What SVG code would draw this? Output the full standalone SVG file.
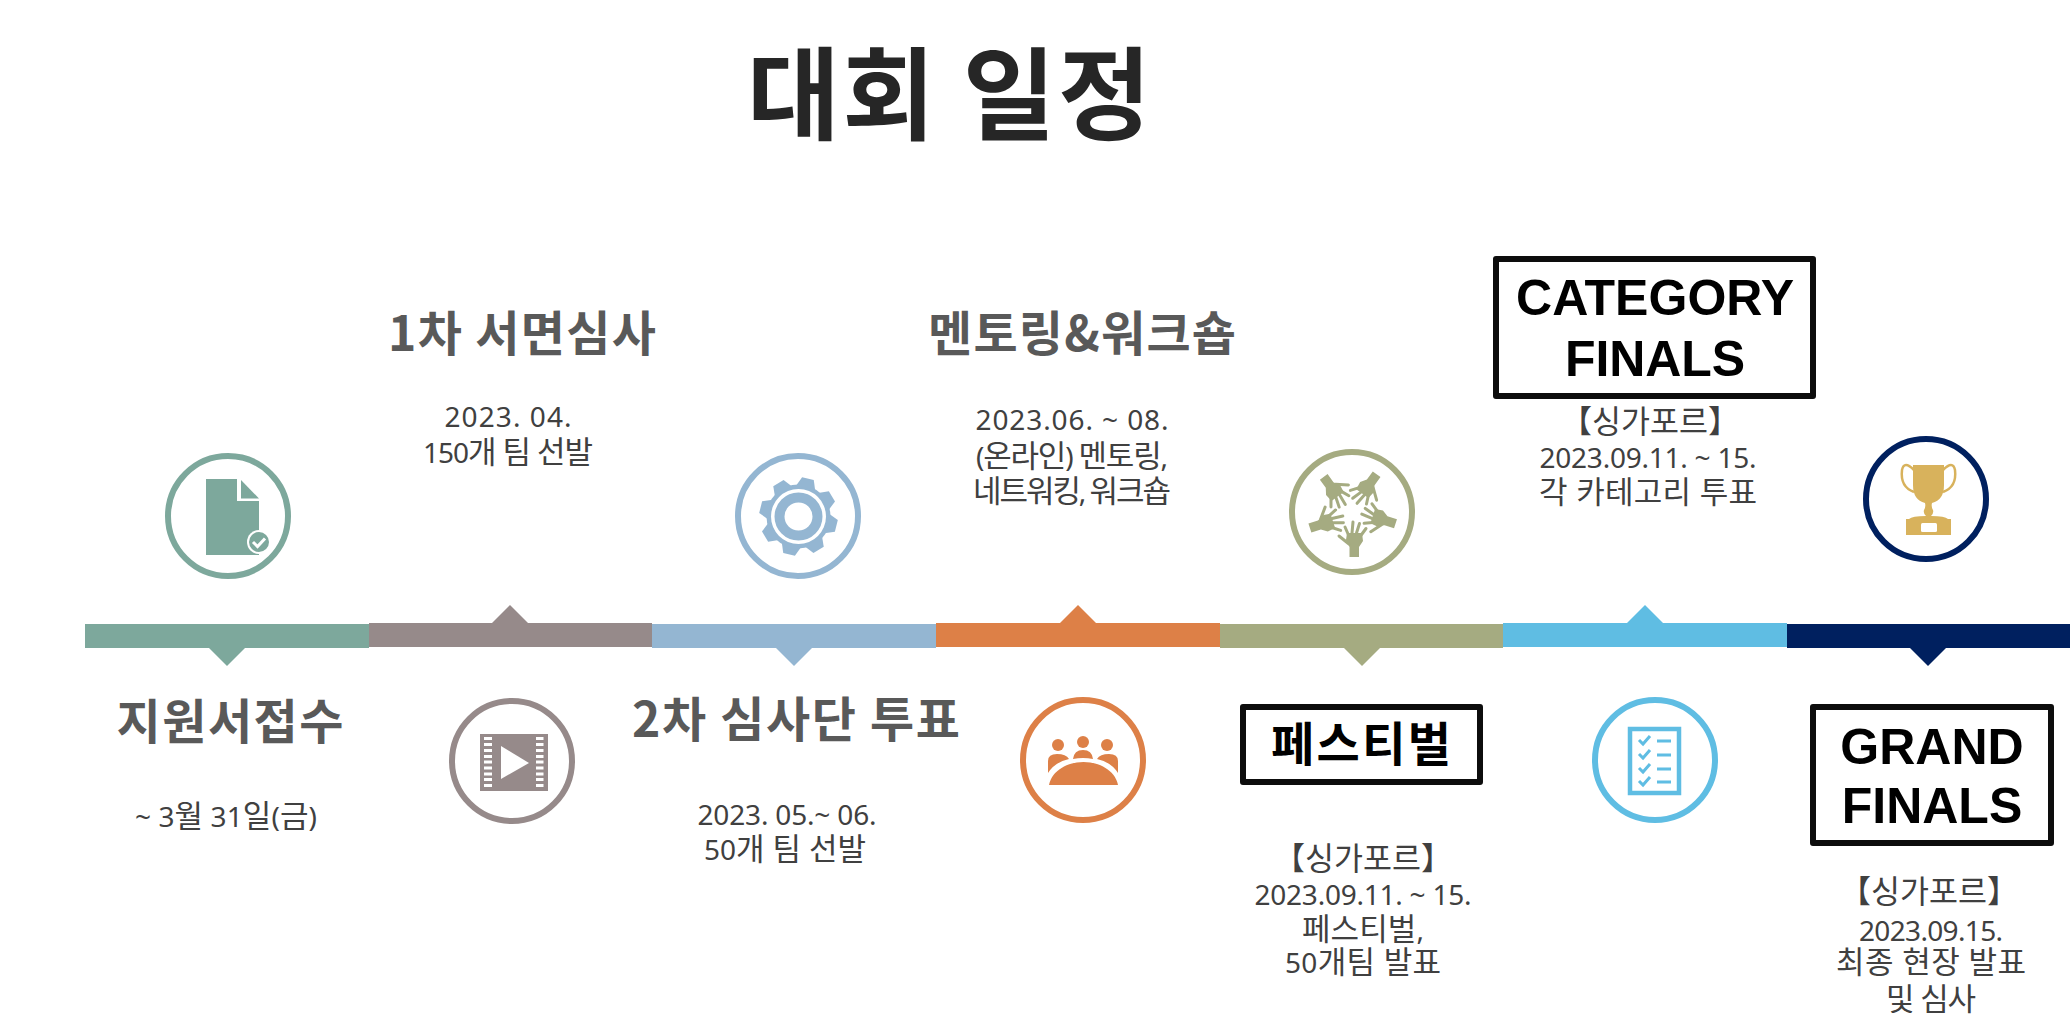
<svg xmlns="http://www.w3.org/2000/svg" xmlns:xlink="http://www.w3.org/1999/xlink" width="2070" height="1034" viewBox="0 0 2070 1034">
<style>
text{font-family:"Noto Sans","Noto Sans CJK KR",sans-serif;text-anchor:middle}
.title{font-family:"Noto Sans CJK KR",sans-serif;font-size:101px;font-weight:700;fill:#262626}
.head{font-family:"Noto Sans CJK KR",sans-serif;font-size:48px;font-weight:700;fill:#595959}
.body{font-size:28px;fill:#404040}
.body tspan{font-size:31px}
.tag{font-family:"Noto Sans CJK KR",sans-serif;font-size:31.500px;fill:#404040}
.box{fill:#fff;stroke:#0d0d0d;stroke-width:6;stroke-linejoin:round}
.en{font-family:"Liberation Sans",Arial,sans-serif;font-size:50px;font-weight:700;fill:#000}
.fest{font-family:"Noto Sans CJK KR",sans-serif;font-size:47px;font-weight:700;fill:#000}
.ring{fill:#fff;stroke-width:6}
</style>
<defs>
<g id="hand" fill="#a5ab81" stroke="none">
<path d="M-2.500 45H7V35L11 29 10 21H-5L-6 28-2.500 35Z"/>
<path d="M-3.500 23L-7 15M0 21L1 10M4.500 21L7.500 11.500M8.500 24L14 16.500M-3 32L-13 24" fill="none" stroke="#a5ab81" stroke-width="3" stroke-linecap="round"/>
</g>
<path id="tooth" d="M-6 -39L6 -39 10 -29H-10Z"/>
</defs>
<rect width="2070" height="1034" fill="#fff"/>
<text class="title" x="949" y="132" textLength="404" id="title">대회 일정</text>
<g id="timeline">
<rect x="85" y="624" width="284" height="24" fill="#7da89c"/><path d="M209 648H245L227 666Z" fill="#7da89c"/>
<rect x="369" y="623" width="283" height="24" fill="#968a8a"/><path d="M492 623H528L510 605Z" fill="#968a8a"/>
<rect x="652" y="624" width="284" height="24" fill="#94b6d2"/><path d="M776 648H812L794 666Z" fill="#94b6d2"/>
<rect x="936" y="623" width="284" height="24" fill="#dd8047"/><path d="M1060 623H1096L1078 605Z" fill="#dd8047"/>
<rect x="1220" y="624" width="283" height="24" fill="#a5ab81"/><path d="M1344 648H1380L1362 666Z" fill="#a5ab81"/>
<rect x="1503" y="623" width="284" height="24" fill="#5fbde3"/><path d="M1627 623H1663L1645 605Z" fill="#5fbde3"/>
<rect x="1787" y="624" width="283" height="24" fill="#00205f"/><path d="M1910 648H1946L1928 666Z" fill="#00205f"/>
</g>
<g id="node-apply">
<circle class="ring" cx="228" cy="516" r="60" stroke="#7da89c"/>
<path d="M206 479H237V501H259V555H206Z" fill="#7da89c"/><path d="M241 480L259 498.500H241Z" fill="#7da89c"/>
<circle cx="259" cy="542" r="12" fill="#fff"/><circle cx="259" cy="542" r="10" fill="#7da89c"/>
<path d="M253 542L257.500 546.500 265 538.500" fill="none" stroke="#fff" stroke-width="3"/>
<text class="head" x="230" y="739" textLength="227">지원서접수</text>
<text class="body" x="226" y="827" textLength="182">~ 3<tspan>월</tspan> 31<tspan>일</tspan>(<tspan>금</tspan>)</text>
</g>
<g id="node-review">
<circle class="ring" cx="512" cy="761" r="60" stroke="#968a8a"/>
<rect x="480" y="734" width="68" height="57" fill="#968a8a"/>
<path d="M484 737h8v3h-8zM484 743h8v3h-8zM484 749h8v3h-8zM484 755h8v3h-8zM484 760.500h8v3h-8zM484 766.500h8v3h-8zM484 772.500h8v3h-8zM484 778h8v3h-8zM484 784h8v3h-8zM536 737h7.500v3h-7.500zM536 743h7.500v3h-7.500zM536 749h7.500v3h-7.500zM536 755h7.500v3h-7.500zM536 760.500h7.500v3h-7.500zM536 766.500h7.500v3h-7.500zM536 772.500h7.500v3h-7.500zM536 778h7.500v3h-7.500zM536 784h7.500v3h-7.500z" fill="#fff"/>
<path d="M501 746L529 763 501 779Z" fill="#fff"/>
<text class="head" x="522" y="351" textLength="268">1차 서면심사</text>
<text class="body" x="508" y="427" textLength="127">2023. 04.</text>
<text class="body" x="508" y="463" textLength="170">150<tspan>개 팀 선발</tspan></text>
</g>
<g id="node-jury">
<circle class="ring" cx="798" cy="516" r="60" stroke="#94b6d2"/>
<g transform="translate(798.500 516.500)" fill="#94b6d2">
<circle r="32"/>
<use xlink:href="#tooth" href="#tooth" transform="rotate(14)"/><use xlink:href="#tooth" href="#tooth" transform="rotate(59)"/><use xlink:href="#tooth" href="#tooth" transform="rotate(104)"/><use xlink:href="#tooth" href="#tooth" transform="rotate(149)"/><use xlink:href="#tooth" href="#tooth" transform="rotate(194)"/><use xlink:href="#tooth" href="#tooth" transform="rotate(239)"/><use xlink:href="#tooth" href="#tooth" transform="rotate(284)"/><use xlink:href="#tooth" href="#tooth" transform="rotate(329)"/>
<circle r="27.500" fill="#fff"/><circle r="19" fill="none" stroke="#94b6d2" stroke-width="10"/>
</g>
<text class="head" x="796" y="737" textLength="328">2차 심사단 투표</text>
<text class="body" x="787" y="825" textLength="179">2023. 05.~ 06.</text>
<text class="body" x="785" y="860" textLength="162">50<tspan>개 팀 선발</tspan></text>
</g>
<g id="node-mentoring">
<circle class="ring" cx="1083" cy="760" r="60" stroke="#dd8047"/>
<g fill="#dd8047">
<path d="M1049 785C1052 770 1068 762 1083.500 762S1115 770 1118 785Z"/>
<circle cx="1058" cy="745" r="6"/><circle cx="1083" cy="742" r="6"/><circle cx="1107" cy="745" r="6"/>
<path d="M1048 773V761Q1048 754 1057 754 1066 754 1069 759 1055 762 1048 773Z"/>
<path d="M1118 773V761Q1118 754 1109 754 1100 754 1097 759 1111 762 1118 773Z"/>
<path d="M1073 759Q1074 750 1083 750 1092 750 1093 759 1083 757 1073 759Z"/>
</g>
<text class="head" x="1082" y="351" textLength="308">멘토링&amp;워크숍</text>
<text class="body" x="1072" y="430" textLength="193">2023.06. ~ 08.</text>
<text class="body" x="1072" y="467" textLength="192">(<tspan>온라인</tspan>) <tspan>멘토링</tspan>,</text>
<text class="body" x="1072" y="502" textLength="198"><tspan>네트워킹</tspan>, <tspan>워크숍</tspan></text>
</g>
<g id="node-festival">
<circle class="ring" cx="1352" cy="512" r="60" stroke="#a5ab81"/>
<g transform="translate(1352 512)">
<use xlink:href="#hand" href="#hand"/><use xlink:href="#hand" href="#hand" transform="rotate(72)"/><use xlink:href="#hand" href="#hand" transform="rotate(144)"/><use xlink:href="#hand" href="#hand" transform="rotate(216)"/><use xlink:href="#hand" href="#hand" transform="rotate(288)"/>
</g>
<rect class="box" x="1243" y="707" width="237" height="75"/>
<text class="fest" x="1361" y="761" textLength="180">페스티벌</text>
<text class="tag" x="1363" y="870">【싱가포르】</text>
<text class="body" x="1363" y="905" textLength="217">2023.09.11. ~ 15.</text>
<text class="body" x="1363" y="940" textLength="122"><tspan>페스티벌</tspan>,</text>
<text class="body" x="1363" y="973" textLength="156">50<tspan>개팀 발표</tspan></text>
</g>
<g id="node-category">
<circle class="ring" cx="1655" cy="760" r="60" stroke="#5fbde3"/>
<rect x="1630" y="729" width="49" height="64" fill="none" stroke="#5fbde3" stroke-width="4.500"/>
<path d="M1639 740L1643 744 1650 736M1639 754L1643 758 1650 750M1639 768L1643 772 1650 764M1639 781L1643 785 1650 777M1657 741H1671M1657 755H1671M1657 769H1671M1657 782H1671" fill="none" stroke="#5fbde3" stroke-width="3"/>
<rect class="box" x="1496" y="259" width="317" height="137"/>
<text class="en" x="1655" y="315" textLength="278">CATEGORY</text>
<text class="en" x="1655" y="376" textLength="180">FINALS</text>
<text class="tag" x="1650" y="433">【싱가포르】</text>
<text class="body" x="1648" y="468" textLength="217">2023.09.11. ~ 15.</text>
<text class="body" x="1648" y="503" textLength="218"><tspan>각 카테고리 투표</tspan></text>
</g>
<g id="node-grand">
<circle class="ring" cx="1926" cy="499" r="60" stroke="#00205f"/>
<path d="M1913 465H1944V485Q1944 500 1932 503 1931 507 1933 510 1934 513 1931 516 1945 516 1948 519H1951V535H1906V519H1909Q1912 516 1926 516 1923 513 1924 510 1926 507 1925 503 1913 500 1913 485Z" fill="#d8b25c"/>
<path d="M1914 470Q1904 460 1902 470 1900 487 1914 492M1943 470Q1953 460 1955 470 1957 487 1943 492" fill="none" stroke="#d8b25c" stroke-width="2.500"/>
<rect x="1921" y="523" width="16" height="9" rx="1.500" fill="#fff"/>
<rect class="box" x="1813" y="707" width="238" height="136"/>
<text class="en" x="1932" y="764">GRAND</text>
<text class="en" x="1932" y="823">FINALS</text>
<text class="tag" x="1929" y="903">【싱가포르】</text>
<text class="body" x="1931" y="941" textLength="144">2023.09.15.</text>
<text class="body" x="1931" y="973" textLength="190"><tspan>최종 현장 발표</tspan></text>
<text class="body" x="1931" y="1010" textLength="90"><tspan>및 심사</tspan></text>
</g>
</svg>
